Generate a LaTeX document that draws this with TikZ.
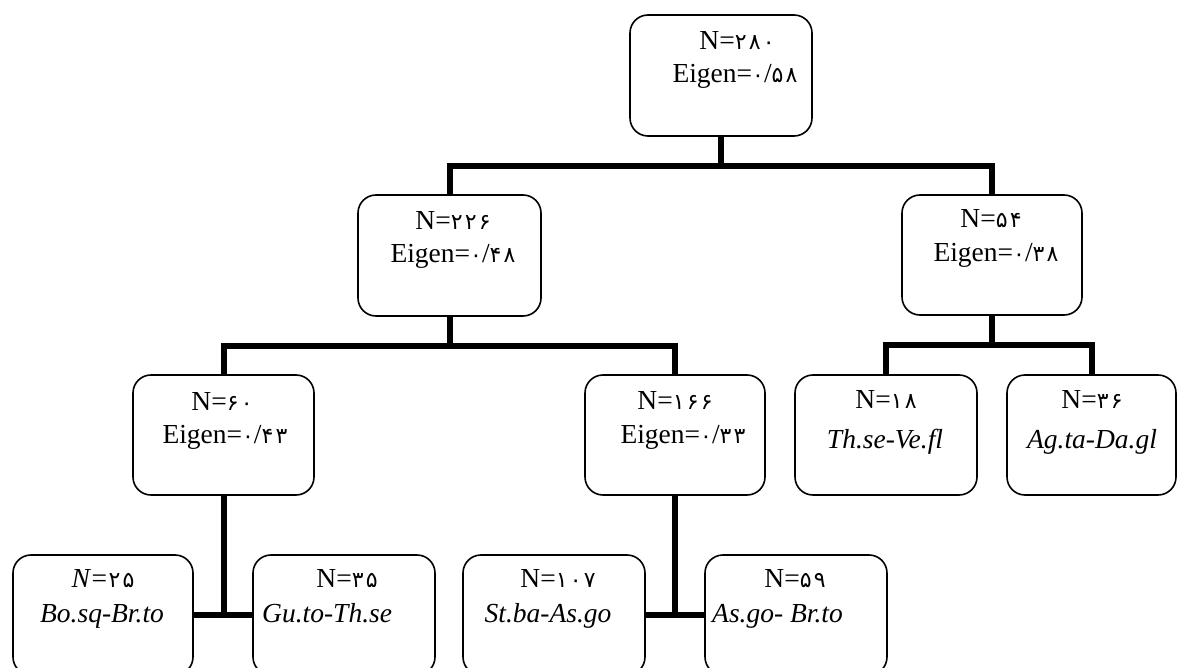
\documentclass[tikz,border=0pt]{standalone}
\usepackage{fontspec}
\setmainfont{Liberation Serif}
\newfontfamily\fafont[LetterSpace=10]{DejaVu Sans}
\newcommand\fnum[1]{{\fafont\fontsize{22}{26}\selectfont #1}}
\begin{document}
\begin{tikzpicture}[x=1pt,y=-1pt,
  box/.style={draw, line width=1.6pt, rounded corners=18pt, minimum height=120pt, inner sep=0pt, minimum width=#1},
  box/.default=181pt,
  txt/.style={anchor=base, inner sep=0pt, font=\fontsize{27.5}{32}\selectfont},
  link/.style={line width=6pt}]
\useasboundingbox (0,0) rectangle (1178,668);
\clip (0,0) rectangle (1178,668);
% boxes
\node[box=182pt, minimum height=121pt] (root) at (721,75.5) {};
\node[box=183pt, minimum height=121pt] (L2a) at (449.5,255.5) {};
\node[box=180pt] (L2b) at (992,255) {};
\node[box] (L3a) at (223.5,435) {};
\node[box=180pt] (L3b) at (675,435) {};
\node[box=182pt] (L3c) at (886,435) {};
\node[box=169pt] (L3d) at (1091.5,435) {};
\node[box=180pt] (B1) at (103,615) {};
\node[box=182pt] (B2) at (344,615) {};
\node[box=182pt] (B3) at (554,615) {};
\node[box=182pt] (B4) at (796,615) {};
% texts
\node[txt] (rootN) at (737,50) {N=\fnum{۲۸۰}};
\node[txt] (rootE) at (735,83) {Eigen=\fnum{۰}/\fnum{۵۸}};
\node[txt] (L2aN) at (453,230) {N=\fnum{۲۲۶}};
\node[txt] (L2aE) at (453,263) {Eigen=\fnum{۰}/\fnum{۴۸}};
\node[txt] (L2bN) at (991,228) {N=\fnum{۵۴}};
\node[txt] (L2bE) at (996,262) {Eigen=\fnum{۰}/\fnum{۳۸}};
\node[txt] (L3aN) at (222,410) {N=\fnum{۶۰}};
\node[txt] (L3aE) at (225,443) {Eigen=\fnum{۰}/\fnum{۴۳}};
\node[txt] (L3bN) at (675,409) {N=\fnum{۱۶۶}};
\node[txt] (L3bE) at (683,443) {Eigen=\fnum{۰}/\fnum{۳۳}};
\node[txt] (L3cN) at (886,408) {N=\fnum{۱۸}};
\node[txt] (L3cS) at (885,448) {\itshape Th.se-Ve.fl};
\node[txt] (L3dN) at (1092,408) {N=\fnum{۳۶}};
\node[txt] (L3dS) at (1092,448) {\itshape Ag.ta-Da.gl};
\node[txt] (B1N) at (103,587) {\textit{N=}\fnum{۲۵}};
\node[txt] (B1S) at (102,622) {\itshape Bo.sq-Br.to};
\node[txt] (B2N) at (347,587) {N=\fnum{۳۵}};
\node[txt, anchor=base west] (B2S) at (262,622) {\itshape Gu.to-Th.se};
\node[txt] (B3N) at (558,587) {N=\fnum{۱۰۷}};
\node[txt] (B3S) at (548,622) {\itshape St.ba-As.go};
\node[txt] (B4N) at (795,587) {N=\fnum{۵۹}};
\node[txt, anchor=base west] (B4S) at (712,622) {\itshape As.go- Br.to};
% connectors
\draw[link] (root.south) -- ++(0,29) coordinate (j0);
\draw[link] (L2a.north) |- (j0) -| (L2b.north);
\draw[link] (L2a.south) -- ++(0,29) coordinate (j1);
\draw[link] (L3a.north) |- (j1) -| (L3b.north);
\draw[link] (L2b.south) -- ++(0,29) coordinate (j2);
\draw[link] (L3c.north) |- (j2) -| (L3d.north);
\draw[link] (L3a.south) -- (L3a.south |- B1.east);
\draw[link] (B1.east) -- (B2.west);
\draw[link] (L3b.south) -- (L3b.south |- B3.east);
\draw[link] (B3.east) -- (B4.west);
\end{tikzpicture}
\end{document}
